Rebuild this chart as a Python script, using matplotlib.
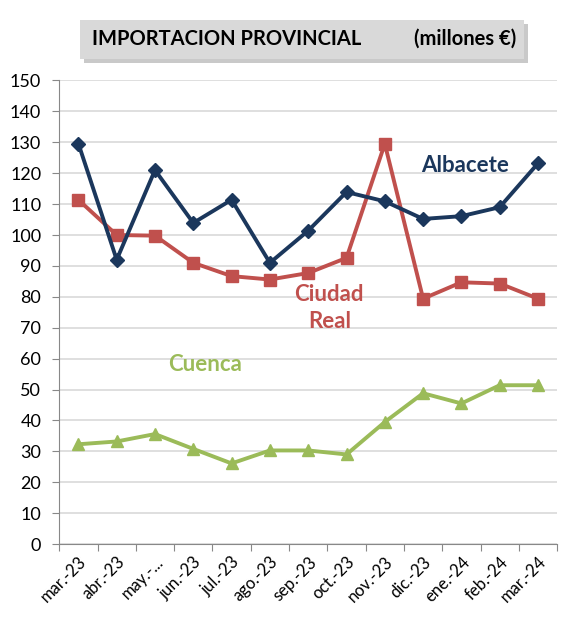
import matplotlib.pyplot as plt
from matplotlib.patches import FancyBboxPatch

meses = ['mar.-23', 'abr.-23', 'may.-...', 'jun.-23', 'jul.-23', 'ago.-23', 'sep.-23',
         'oct.-23', 'nov.-23', 'dic.-23', 'ene.-24', 'feb.-24', 'mar.-24']
albacete = [129.6, 92.0, 121.0, 103.9, 111.4, 91.0, 101.4, 113.9, 110.9, 105.2, 106.1, 109.0, 123.2]
ciudad_real = [111.4, 100.0, 99.8, 91.0, 86.7, 85.6, 87.7, 92.6, 129.5, 79.4, 84.7, 84.3, 79.4]
cuenca = [32.3, 33.2, 35.6, 30.8, 26.1, 30.3, 30.3, 29.0, 39.5, 48.8, 45.5, 51.4, 51.4]

plt.rcParams['font.family'] = ['Lato', 'DejaVu Sans']

fig = plt.figure(figsize=(5.75, 6.19), dpi=100)
ax = fig.add_axes([0.103, 0.121, 0.866, 0.749])

x = list(range(len(meses)))
ax.plot(x, albacete, color='#1b375c', lw=2.8, marker='D', ms=7, zorder=4)
ax.plot(x, ciudad_real, color='#c0504d', lw=2.8, marker='s', ms=8.5, zorder=3)
ax.plot(x, cuenca, color='#9bbb59', lw=2.8, marker='^', ms=9, zorder=3)

ax.set_xlim(-0.5, len(meses) - 0.5)
ax.set_ylim(0, 150)
ax.set_yticks(range(0, 151, 10))
ax.yaxis.grid(True, color='#d9d9d9', lw=1.2)
ax.set_axisbelow(True)

ax.set_xticks([i - 0.5 for i in range(len(meses) + 1)], minor=False)
ax.set_xticklabels([])
ax.set_xticks(x, minor=True)
ax.set_xticklabels(meses, minor=True, rotation=45, ha='right', rotation_mode='anchor', fontsize=12)
ax.tick_params(axis='x', which='minor', length=0, pad=7)
ax.tick_params(axis='x', which='major', length=5, color='#888888')
ax.tick_params(axis='y', length=5, color='#888888', labelsize=13, pad=8)

for s in ['top', 'right']:
    ax.spines[s].set_visible(False)
ax.spines['left'].set_color('#888888')
ax.spines['bottom'].set_color('#888888')

ax.text(10.1, 122.5, 'Albacete', color='#1b375c', fontsize=16, fontweight='bold', ha='center', va='center')
ax.text(6.55, 76.5, 'Ciudad\nReal', color='#c0504d', fontsize=16, fontweight='bold', ha='center', va='center', linespacing=1.35)
ax.text(3.3, 58, 'Cuenca', color='#9bbb59', fontsize=16, fontweight='bold', ha='center', va='center')

# title box with shadow
fig.patches.append(FancyBboxPatch((0.146, 0.898), 0.773, 0.063, boxstyle='square,pad=0',
                                  transform=fig.transFigure, fc='#a6a6a6', ec='none', alpha=0.6))
fig.patches.append(FancyBboxPatch((0.139, 0.905), 0.773, 0.063, boxstyle='square,pad=0',
                                  transform=fig.transFigure, fc='#d9d9d9', ec='none'))
fig.text(0.160, 0.937, 'IMPORTACION PROVINCIAL', fontsize=14.5, fontweight='bold', va='center', ha='left')
fig.text(0.897, 0.937, '(millones €)', fontsize=14.5, fontweight='bold', va='center', ha='right')

fig.savefig('out.png', dpi=100)
